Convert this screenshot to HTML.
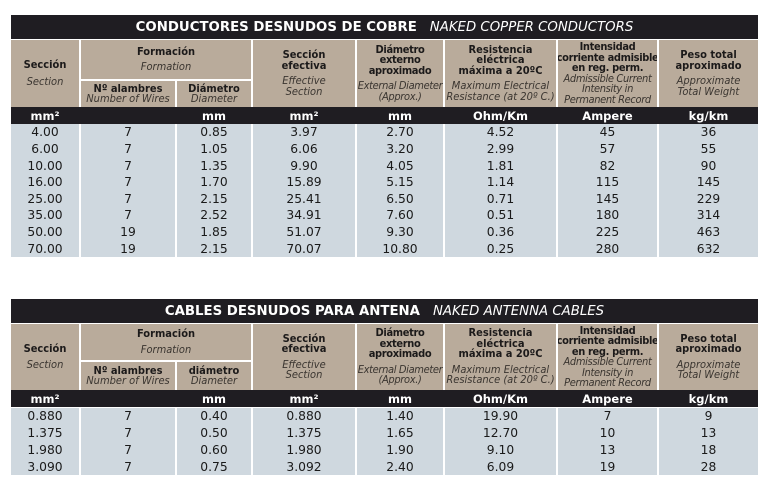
<!DOCTYPE html>
<html><head><meta charset="utf-8"><style>
*{margin:0;padding:0;box-sizing:border-box}
body{width:776px;height:491px;background:#fff;position:relative;overflow:hidden;font-family:"DejaVu Sans","Liberation Sans",sans-serif;color:#222}
.t{position:absolute;left:11px;width:747px}
.title{background:#1f1d22;color:#fff;text-align:center;font-size:13.3px;font-weight:bold;display:flex;align-items:center;justify-content:center}
.title i{font-weight:normal;margin-left:13px}
.hd{display:grid;grid-template-columns:68px 94px 74px 102px 86px 111px 99px 99px;column-gap:2px;row-gap:2px;background:#fff}
.hd>div{background:#b9ab9b;display:flex;flex-direction:column;align-items:center;justify-content:center;text-align:center;font-family:"DejaVu Sans Condensed","Liberation Sans Narrow","Liberation Sans",sans-serif;font-size:11px;line-height:10.5px;color:#1c1a1a;white-space:nowrap;overflow:hidden}
.hd b{font-weight:bold}
.hd i{font-style:italic;color:#3a3530}
.hd .nar{letter-spacing:-0.35px}
.un{display:grid;grid-template-columns:68px 94px 74px 102px 86px 111px 99px 99px;column-gap:2px;background:#1f1d22;color:#fff;font-weight:bold;font-size:11.5px}
.un>div{text-align:center;display:flex;align-items:center;justify-content:center}
.dt{display:grid;grid-template-columns:68px 94px 74px 102px 86px 111px 99px 99px;column-gap:2px;background:#fff}
.dt>div{background:#cfd8df;text-align:center;font-size:12.3px;display:flex;align-items:center;justify-content:center;color:#1a1a1a}
</style></head><body>

<div class="t title" style="top:15px;height:24px">CONDUCTORES DESNUDOS DE COBRE<i>NAKED COPPER CONDUCTORS</i></div>
<div class="t hd" style="top:40px;grid-template-rows:39px 26px">
<div style="grid-row:1/3"><b>Sección</b><i style="margin-top:6px">Section</i></div>
<div style="grid-column:2/4"><b>Formación</b><i style="margin-top:5px">Formation</i></div>
<div style="grid-column:4;grid-row:1/3"><b>Sección<br>efectiva</b><i style="margin-top:5px">Effective<br>Section</i></div>
<div class="nar" style="grid-column:5;grid-row:1/3"><b>Diámetro<br>externo<br>aproximado</b><i style="margin-top:5px">External Diameter<br>(Approx.)</i></div>
<div style="grid-column:6;grid-row:1/3"><b>Resistencia<br>eléctrica<br>máxima a 20ºC</b><i style="margin-top:5px">Maximum Electrical<br>Resistance (at 20º C.)</i></div>
<div class="nar" style="grid-column:7;grid-row:1/3"><b>Intensidad<br>corriente admisible<br>en reg. perm.</b><i>Admissible Current<br>Intensity in<br>Permanent Record</i></div>
<div style="grid-column:8;grid-row:1/3"><b>Peso total<br>aproximado</b><i style="margin-top:5px">Approximate<br>Total Weight</i></div>
<div style="grid-column:2;grid-row:2"><b>Nº alambres</b><i>Number of Wires</i></div>
<div style="grid-column:3;grid-row:2"><b>Diámetro</b><i>Diameter</i></div>
</div>
<div class="t un" style="top:107px;height:17px"><div>mm²</div><div></div><div>mm</div><div>mm²</div><div>mm</div><div>Ohm/Km</div><div>Ampere</div><div>kg/km</div></div>
<div class="t dt" style="top:124px;height:133px;grid-template-rows:repeat(8,1fr)">
<div>4.00</div><div>7</div><div>0.85</div><div>3.97</div><div>2.70</div><div>4.52</div><div>45</div><div>36</div>
<div>6.00</div><div>7</div><div>1.05</div><div>6.06</div><div>3.20</div><div>2.99</div><div>57</div><div>55</div>
<div>10.00</div><div>7</div><div>1.35</div><div>9.90</div><div>4.05</div><div>1.81</div><div>82</div><div>90</div>
<div>16.00</div><div>7</div><div>1.70</div><div>15.89</div><div>5.15</div><div>1.14</div><div>115</div><div>145</div>
<div>25.00</div><div>7</div><div>2.15</div><div>25.41</div><div>6.50</div><div>0.71</div><div>145</div><div>229</div>
<div>35.00</div><div>7</div><div>2.52</div><div>34.91</div><div>7.60</div><div>0.51</div><div>180</div><div>314</div>
<div>50.00</div><div>19</div><div>1.85</div><div>51.07</div><div>9.30</div><div>0.36</div><div>225</div><div>463</div>
<div>70.00</div><div>19</div><div>2.15</div><div>70.07</div><div>10.80</div><div>0.25</div><div>280</div><div>632</div>
</div>

<div class="t title" style="top:299px;height:24px">CABLES DESNUDOS PARA ANTENA<i>NAKED ANTENNA CABLES</i></div>
<div class="t hd" style="top:324px;grid-template-rows:36px 28px">
<div style="grid-row:1/3"><b>Sección</b><i style="margin-top:6px">Section</i></div>
<div style="grid-column:2/4"><b>Formación</b><i style="margin-top:5px">Formation</i></div>
<div style="grid-column:4;grid-row:1/3"><b>Sección<br>efectiva</b><i style="margin-top:5px">Effective<br>Section</i></div>
<div class="nar" style="grid-column:5;grid-row:1/3"><b>Diámetro<br>externo<br>aproximado</b><i style="margin-top:5px">External Diameter<br>(Approx.)</i></div>
<div style="grid-column:6;grid-row:1/3"><b>Resistencia<br>eléctrica<br>máxima a 20ºC</b><i style="margin-top:5px">Maximum Electrical<br>Resistance (at 20º C.)</i></div>
<div class="nar" style="grid-column:7;grid-row:1/3"><b>Intensidad<br>corriente admisible<br>en reg. perm.</b><i>Admissible Current<br>Intensity in<br>Permanent Record</i></div>
<div style="grid-column:8;grid-row:1/3"><b>Peso total<br>aproximado</b><i style="margin-top:5px">Approximate<br>Total Weight</i></div>
<div style="grid-column:2;grid-row:2"><b>Nº alambres</b><i>Number of Wires</i></div>
<div style="grid-column:3;grid-row:2"><b>diámetro</b><i>Diameter</i></div>
</div>
<div class="t un" style="top:390px;height:17px"><div>mm²</div><div></div><div>mm</div><div>mm²</div><div>mm</div><div>Ohm/Km</div><div>Ampere</div><div>kg/km</div></div>
<div class="t dt" style="top:408px;height:67px;grid-template-rows:repeat(4,1fr)">
<div>0.880</div><div>7</div><div>0.40</div><div>0.880</div><div>1.40</div><div>19.90</div><div>7</div><div>9</div>
<div>1.375</div><div>7</div><div>0.50</div><div>1.375</div><div>1.65</div><div>12.70</div><div>10</div><div>13</div>
<div>1.980</div><div>7</div><div>0.60</div><div>1.980</div><div>1.90</div><div>9.10</div><div>13</div><div>18</div>
<div>3.090</div><div>7</div><div>0.75</div><div>3.092</div><div>2.40</div><div>6.09</div><div>19</div><div>28</div>
</div>
</body></html>
